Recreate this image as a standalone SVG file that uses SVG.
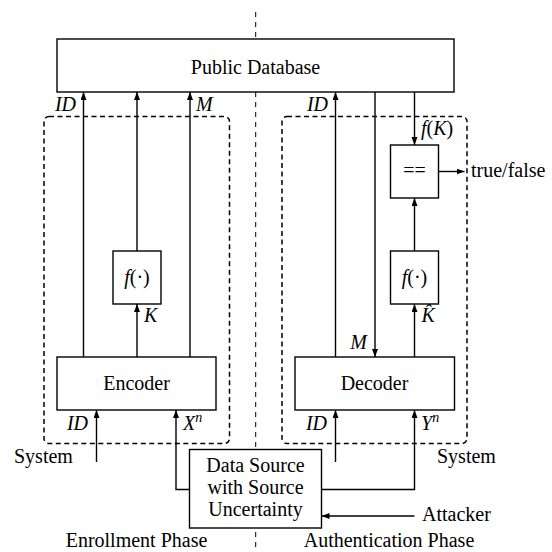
<svg xmlns="http://www.w3.org/2000/svg" width="552" height="552" viewBox="0 0 552 552" font-family="'Liberation Serif', 'DejaVu Serif', 'Noto Serif', serif">
<defs>
<marker id="ah" markerUnits="userSpaceOnUse" markerWidth="9" markerHeight="7" refX="8" refY="3" orient="auto">
<path d="M0,0 L8,3 L0,6 z" fill="#000"/>
</marker>
<style>
text{font-size:20px;fill:#000}
.it{font-style:italic}
.box{fill:#fff;stroke:#000;stroke-width:1.4}
.grp{fill:none;stroke:#000;stroke-width:1.5;stroke-dasharray:5 3.5}
.ln{fill:none;stroke:#000;stroke-width:1.4}
.arr{marker-end:url(#ah)}
.mid{text-anchor:middle}
.end{text-anchor:end}
</style>
</defs>
<rect width="552" height="552" fill="#fff"/>
<line x1="255.7" y1="12" x2="255.7" y2="552" stroke="#000" stroke-width="1" stroke-dasharray="5 5"/>
<g id="system-enroll"><rect class="grp" x="44" y="116.5" width="185.5" height="327" rx="5"/></g>
<g id="system-auth"><rect class="grp" x="282" y="116.5" width="185" height="327" rx="5"/></g>
<g id="connectors">
<path class="ln arr" d="M83.5,357 V92"/>
<path class="ln arr" d="M137,251 V92"/>
<path class="ln arr" d="M190,357 V92"/>
<path class="ln arr" d="M137,357 V304"/>
<path class="ln arr" d="M96.5,462 V410"/>
<path class="ln arr" d="M189.5,489.5 H176 V410"/>
<path class="ln arr" d="M335.5,357 V92"/>
<path class="ln arr" d="M375,92 V357"/>
<path class="ln arr" d="M414.5,92 V145"/>
<path class="ln arr" d="M438.5,171.5 H464.5"/>
<path class="ln arr" d="M414.5,251 V198"/>
<path class="ln arr" d="M414.5,357 V304"/>
<path class="ln arr" d="M335.5,462 V410"/>
<path class="ln arr" d="M321.5,489.5 H414.5 V410"/>
<path class="ln arr" d="M414.5,516 H321.5"/>
</g>
<g id="public-database"><rect class="box" x="57" y="39" width="397" height="53"/><text class="mid" x="255.5" y="74">Public Database</text></g>
<g id="f-enc"><rect class="box" x="113" y="251" width="48" height="53"/><text class="mid" x="137" y="284"><tspan class="it">f</tspan>(·)</text></g>
<g id="encoder"><rect class="box" x="57" y="357" width="159" height="53"/><text class="mid" x="136.5" y="390">Encoder</text></g>
<g id="compare"><rect class="box" x="390.5" y="145" width="48" height="53"/><text class="mid" x="414.5" y="177">==</text></g>
<g id="f-dec"><rect class="box" x="390.5" y="251" width="48" height="53"/><text class="mid" x="414.5" y="284"><tspan class="it">f</tspan>(·)</text></g>
<g id="decoder"><rect class="box" x="295" y="357" width="159.5" height="53"/><text class="mid" x="374.5" y="390">Decoder</text></g>
<g id="data-source"><rect class="box" x="189.5" y="449.5" width="132" height="78.5"/>
<text class="mid" x="255.5" y="472">Data Source</text>
<text class="mid" x="255.5" y="494">with Source</text>
<text class="mid" x="255.5" y="516">Uncertainty</text></g>
<g id="labels">
<text class="it end" x="76" y="111">ID</text>
<text class="it" x="196" y="111">M</text>
<text class="it end" x="328" y="111">ID</text>
<text x="421" y="135"><tspan class="it">f</tspan>(<tspan class="it">K</tspan>)</text>
<text x="471" y="177">true/false</text>
<text class="it" x="144" y="322">K</text>
<text class="it" x="421.5" y="322">K̂</text>
<text class="it end" x="367" y="349">M</text>
<text class="it end" x="88" y="430">ID</text>
<text class="it" x="183" y="430">X<tspan font-size="14" dy="-8">n</tspan></text>
<text class="it end" x="327" y="430">ID</text>
<text class="it" x="421" y="430">Y<tspan font-size="14" dy="-8">n</tspan></text>
<text x="14" y="463">System</text>
<text x="437" y="463">System</text>
<text x="422" y="521">Attacker</text>
<text class="mid" x="136.5" y="547">Enrollment Phase</text>
<text class="mid" x="389" y="547">Authentication Phase</text>
</g>
</svg>
